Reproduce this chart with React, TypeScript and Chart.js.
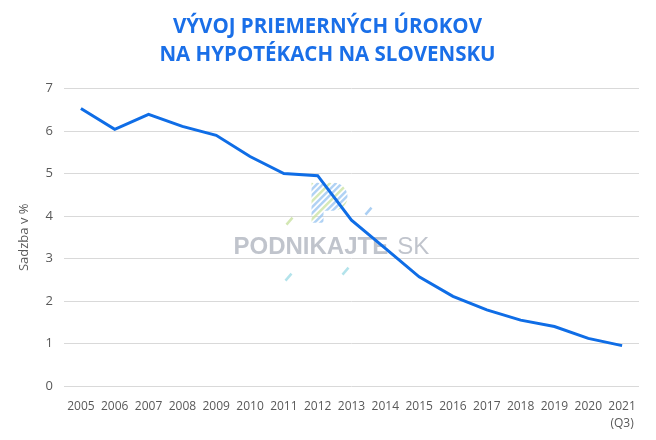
import React, { useEffect, useRef } from "react";
import { Chart, registerables } from "chart.js";

Chart.register(...registerables);

const titleLines = ["VÝVOJ PRIEMERNÝCH ÚROKOV", "NA HYPOTÉKACH NA SLOVENSKU"];
const years: (string | string[])[] = [
  "2005", "2006", "2007", "2008", "2009", "2010", "2011", "2012", "2013",
  "2014", "2015", "2016", "2017", "2018", "2019", "2020", ["2021", "(Q3)"],
];
const rates = [6.53, 6.04, 6.39, 6.11, 5.9, 5.4, 5.0, 4.95, 3.9, 3.24, 2.57, 2.11, 1.79, 1.55, 1.4, 1.12, 0.95];
const yAxisTitle = "Sadzba v %";
const watermarkMain = "PODNIKAJTE";
const watermarkSuffix = "SK";

const BLUE = "#1a6fe8";
const GRAY = "#595959";

const watermarkPlugin = {
  id: "watermark",
  beforeDatasetsDraw(chart: any) {
    const { ctx, chartArea } = chart;
    const cx = (chartArea.left + chartArea.right) / 2;
    const cy = chartArea.top + (chartArea.bottom - chartArea.top) * 0.535;
    ctx.save();
    // hatched logo mark
    const lx = cx - 40;
    const ly = cy - 65;
    ctx.save();
    ctx.beginPath();
    ctx.moveTo(lx, ly);
    ctx.lineTo(lx + 22, ly);
    ctx.arc(lx + 22, ly + 14, 14, -Math.PI / 2, Math.PI / 2);
    ctx.lineTo(lx + 12, ly + 28);
    ctx.lineTo(lx + 12, ly + 40);
    ctx.lineTo(lx, ly + 40);
    ctx.closePath();
    ctx.clip();
    ctx.lineWidth = 2.5;
    let k = 0;
    for (let i = -50; i < 60; i += 6) {
      ctx.strokeStyle = k % 3 === 1 ? "rgba(200,225,160,0.75)" : "rgba(150,195,240,0.75)";
      ctx.beginPath();
      ctx.moveTo(lx + i, ly + 45);
      ctx.lineTo(lx + i + 45, ly);
      ctx.stroke();
      k++;
    }
    ctx.restore();
    ctx.lineWidth = 2.5;
    const dashes: [number, number, string][] = [
      [lx - 25, ly + 42, "rgba(200,225,160,0.8)"],
      [lx + 54, ly + 32, "rgba(150,195,240,0.8)"],
      [lx - 26, ly + 98, "rgba(160,220,230,0.8)"],
      [lx + 31, ly + 92, "rgba(160,220,230,0.8)"],
    ];
    dashes.forEach(([x, y, c]) => {
      ctx.strokeStyle = c;
      ctx.beginPath();
      ctx.moveTo(x, y);
      ctx.lineTo(x + 6, y - 7);
      ctx.stroke();
    });
    ctx.textBaseline = "middle";
    const start = cx - 118;
    ctx.fillStyle = "rgba(165,171,183,0.7)";
    ctx.font = "bold 24px 'Liberation Sans', Arial, sans-serif";
    const w1 = ctx.measureText(watermarkMain).width;
    ctx.fillText(watermarkMain, start, cy);
    ctx.font = "24px 'Liberation Sans', Arial, sans-serif";
    ctx.fillText(watermarkSuffix, start + w1 + 9, cy);
    ctx.restore();
  },
};

export default function App() {
  const ref = useRef<HTMLCanvasElement>(null);
  useEffect(() => {
    if (!ref.current) return;
    const chart = new Chart(ref.current, {
      type: "line",
      data: {
        labels: years,
        datasets: [
          {
            data: rates,
            borderColor: "#0f6de6",
            borderWidth: 3,
            pointRadius: 0,
            tension: 0,
            fill: false,
          },
        ],
      },
      plugins: [watermarkPlugin],
      options: {
        animation: false,
        responsive: true,
        maintainAspectRatio: false,
        layout: { padding: { left: 16, right: 17, top: 0, bottom: 0 } },
        plugins: {
          legend: { display: false },
          tooltip: { enabled: false },
          title: {
            display: true,
            text: titleLines,
            color: BLUE,
            font: { family: "'Open Sans', sans-serif", size: 20.5, weight: "bold", lineHeight: 1.33 },
            padding: { top: 14, bottom: 20 },
          },
        },
        scales: {
          x: {
            offset: true,
            grid: { display: false },
            border: { display: false },
            ticks: {
              color: GRAY,
              font: { family: "'Open Sans', sans-serif", size: 12, lineHeight: 1.4 },
              maxRotation: 0,
              autoSkip: false,
              padding: 4,
            },
            afterFit(s: any) {
              s.height = 54;
            },
          },
          y: {
            min: 0,
            max: 7,
            grid: { color: "#d9d9d9", lineWidth: 1, drawTicks: false },
            border: { display: false },
            ticks: {
              stepSize: 1,
              color: GRAY,
              font: { family: "'Open Sans', sans-serif", size: 13 },
              padding: 11,
            },
            title: {
              display: true,
              text: yAxisTitle,
              color: GRAY,
              font: { family: "'Open Sans', sans-serif", size: 13 },
              padding: { top: 0, bottom: 4 },
            },
            afterFit(s: any) {
              s.width = 48;
            },
          },
        },
      },
    });
    return () => chart.destroy();
  }, []);
  return (
    <div style={{ position: "fixed", left: 0, top: 0, width: 656, height: 440, background: "#fff" }}>
      <canvas ref={ref} />
    </div>
  );
}
